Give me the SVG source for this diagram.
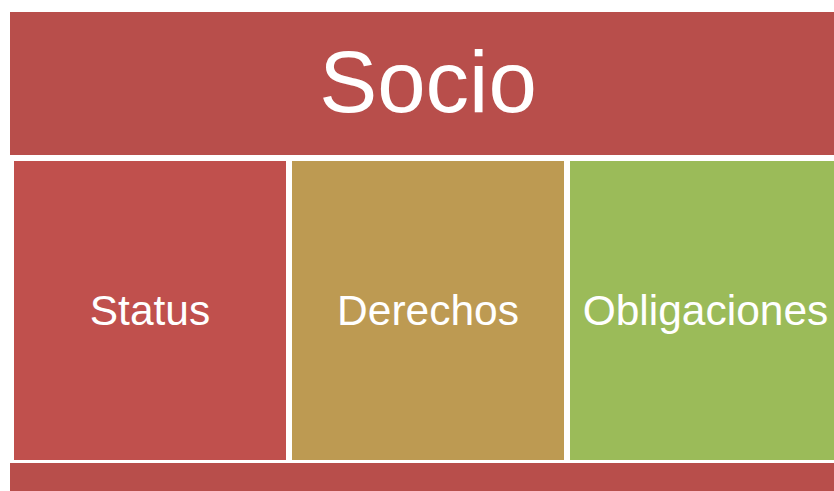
<svg xmlns="http://www.w3.org/2000/svg" width="834" height="491" viewBox="0 0 834 491">
<style>
text{font-family:"Liberation Sans",Arial,sans-serif;fill:#fff;text-anchor:middle}
.lbl{font-size:42.5px}
.box{stroke:none}
</style>
<rect width="834" height="491" fill="#fff"/>
<g id="socio">
<rect x="10" y="12" width="824" height="143" fill="#B84E4B"/>
<text x="428" y="112" style="font-size:87px">Socio</text>
</g>
<g id="status">
<rect x="14" y="161" width="272" height="299" fill="#C0504D"/>
<text class="lbl" x="150" y="325">Status</text>
</g>
<g id="derechos">
<rect x="292" y="161" width="272" height="299" fill="#BD9A52"/>
<text class="lbl" x="428" y="325">Derechos</text>
</g>
<g id="obligaciones">
<rect x="570" y="161" width="264" height="299" fill="#9BBB59"/>
<text class="lbl" x="705.5" y="325">Obligaciones</text>
</g>
<g id="footer">
<rect x="10" y="463" width="824" height="28" fill="#B84E4B"/>
</g>
<g id="connectors"></g>
</svg>
